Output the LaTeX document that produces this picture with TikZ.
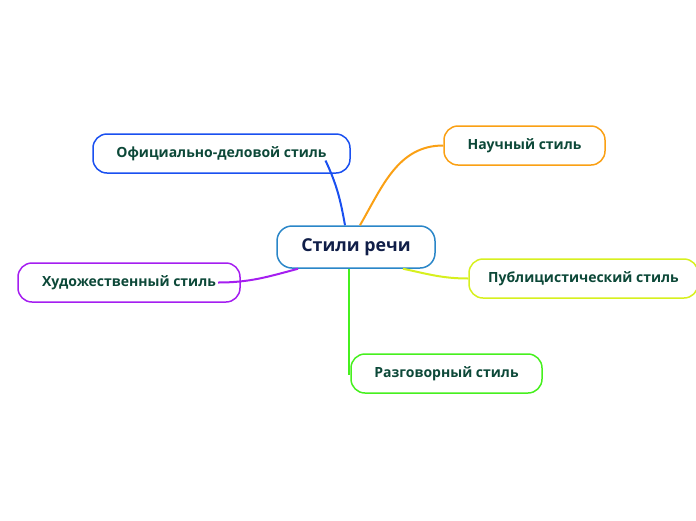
\documentclass[tikz,border=0pt]{standalone}
\usepackage{fontspec}
\setmainfont{Open Sans}
\definecolor{leaftext}{RGB}{12,72,56}
\definecolor{roottext}{RGB}{16,30,72}
\definecolor{rootline}{RGB}{42,134,200}
\definecolor{oficline}{RGB}{26,80,240}
\definecolor{nauchline}{RGB}{250,160,20}
\definecolor{publline}{RGB}{215,240,30}
\definecolor{razgline}{RGB}{70,240,30}
\definecolor{hudline}{RGB}{165,30,240}

\begin{document}
\begin{tikzpicture}[
    x=1pt, y=-1pt,
    leaf/.style = {draw, line width=1.5pt, fill=white, rounded corners=14pt,
                   minimum height=39pt, font=\fontsize{14}{16}\selectfont\bfseries,
                   text=leaftext},
    root/.style = {draw=rootline, line width=1.5pt, fill=white, rounded corners=15pt,
                   minimum width=158pt, minimum height=42pt,
                   font=\fontsize{17.8}{20}\selectfont\bfseries, text=roottext},
    link/.style = {line width=2pt}
]
\useasboundingbox (0,0) rectangle (696,520);

% branches first, boxes drawn over them
\node[leaf, draw=oficline, minimum width=257pt] (ofic) at (221.5,153.5) {Официально-деловой стиль};
\node[leaf, draw=nauchline, minimum width=161pt] (nauch) at (524.5,145.5) {Научный стиль};
\node[leaf, draw=publline, minimum width=229pt] (publ) at (583.5,278.5) {Публицистический стиль};
\node[leaf, draw=razgline, minimum width=191pt] (razg) at (446.5,373.5) {Разговорный стиль};
\node[leaf, draw=hudline, minimum width=222pt] (hud) at (129,282.5) {Художественный стиль};
\node[root] (stil) at (356,247) {Стили речи};

\draw[link, oficline] ([xshift=-11pt]stil.north) to[out=100, in=-65] ([xshift=104pt,yshift=-7pt]ofic.center);
\draw[link, nauchline] ([xshift=4pt]stil.north) to[out=60, in=180] (nauch.west);
\draw[link, publline] ([xshift=47pt]stil.south) to[out=-12, in=180] (publ.west);
\draw[link, razgline] ([xshift=-7pt]stil.south) |- (razg.west);
\draw[link, hudline] ([xshift=-58pt]stil.south) to[out=195, in=0] ([xshift=89pt]hud.center);
\end{tikzpicture}
\end{document}
